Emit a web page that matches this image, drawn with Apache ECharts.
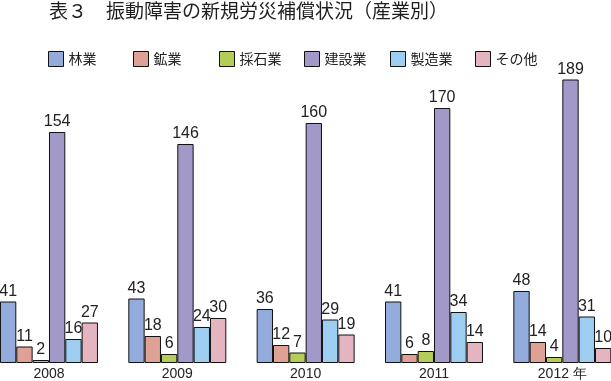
<!DOCTYPE html>
<html>
<head>
<meta charset="utf-8">
<script src="https://cdn.jsdelivr.net/npm/echarts@6/dist/echarts.min.js"></script>
<style>
html,body{margin:0;padding:0;background:#fff;}
#c{width:611px;height:381px;}
</style>
</head>
<body>
<div id="c"></div>
<script>
var years = ['2008', '2009', '2010', '2011', '2012 年'];
var seriesNames = ['林業', '鉱業', '採石業', '建設業', '製造業', 'その他'];
var forestry = [41, 43, 36, 41, 48];
var mining = [11, 18, 12, 6, 14];
var quarrying = [2, 6, 7, 8, 4];
var construction = [154, 146, 160, 170, 189];
var manufacturing = [16, 24, 29, 34, 31];
var other = [27, 30, 19, 14, 10];
var values = [forestry, mining, quarrying, construction, manufacturing, other];
var colors = ['#93acdc', '#dfa095', '#b3cd58', '#a399c9', '#9dcdf1', '#e4b5c1'];

var chart = echarts.init(document.getElementById('c'));
var legendLefts = [48, 133, 219, 304, 390, 475];
var legends = seriesNames.map(function (n, i) {
  return {
    data: [n],
    left: legendLefts[i],
    top: 51,
    padding: 0,
    itemWidth: 15,
    itemHeight: 15,
    itemGap: 0,
    icon: 'rect',
    itemStyle: { borderColor: '#111', borderWidth: 1 },
    textStyle: { fontFamily: 'Noto Sans CJK JP', fontSize: 14, color: '#222' },
    selectedMode: false
  };
});

chart.setOption({
  animation: false,
  backgroundColor: '#fff',
  title: {
    text: '表３　振動障害の新規労災補償状況（産業別）',
    left: 49,
    top: 1,
    padding: 0,
    textStyle: { fontFamily: 'Noto Sans CJK JP', fontSize: 19, fontWeight: 'normal', color: '#1e1e1e' }
  },
  legend: legends,
  grid: { left: -15.2, right: -15.5, top: 63, bottom: 18, containLabel: false, outerBoundsMode: 'none' },
  xAxis: {
    type: 'category',
    data: years,
    axisLine: { show: false },
    axisTick: { show: false },
    axisLabel: { fontFamily: 'Liberation Sans', fontSize: 14, color: '#222', margin: 4 }
  },
  yAxis: {
    type: 'value',
    min: 0,
    max: 200,
    show: false,
    splitLine: { show: false }
  },
  series: seriesNames.map(function (n, i) {
    return {
      name: n,
      type: 'bar',
      data: values[i],
      barWidth: 16.33,
      barGap: '0%',
      itemStyle: { color: colors[i], borderColor: '#111', borderWidth: 1 },
      label: {
        show: true,
        position: 'top',
        distance: 2,
        fontFamily: 'Liberation Sans',
        fontSize: 16,
        color: '#222'
      }
    };
  })
});
</script>
</body>
</html>
